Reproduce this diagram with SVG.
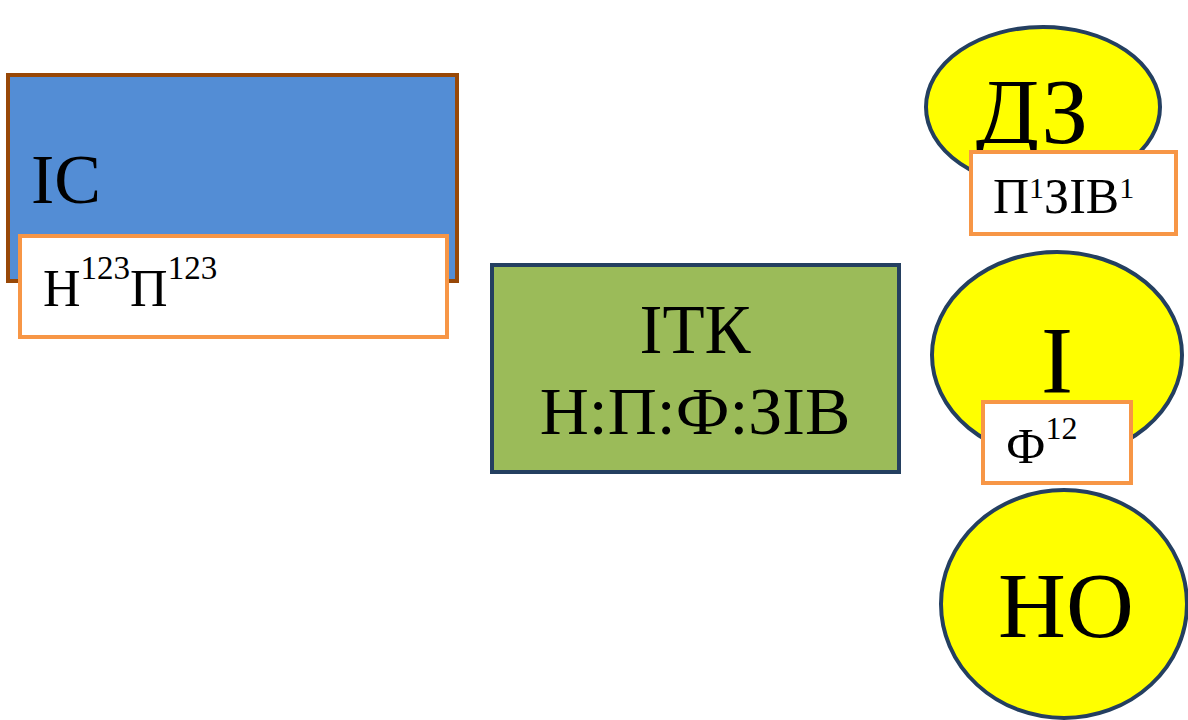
<svg xmlns="http://www.w3.org/2000/svg" width="1188" height="720" viewBox="0 0 1188 720" font-family="'Liberation Serif', 'Times New Roman', Times, serif">
  <style>
    text { font-family: 'Liberation Serif', 'Times New Roman', Times, serif; fill: #000; }
    .tag { fill: #fff; stroke: #F79646; stroke-width: 4; }
    .bubble { fill: #FFFF00; stroke: #243F60; stroke-width: 4; }
  </style>
  <rect width="1188" height="720" fill="#fff"/>

  <!-- information system block -->
  <g id="is">
    <rect x="8" y="75" width="449" height="206" fill="#538DD5" stroke="#984807" stroke-width="4"/>
    <text x="31" y="203" font-size="70">ІС</text>
  </g>
  <g id="is-tag">
    <rect class="tag" x="20" y="236" width="427" height="101"/>
    <text x="43" y="306" font-size="52">Н<tspan dy="-27" font-size="33">123</tspan><tspan dy="27" font-size="52">П</tspan><tspan dy="-27" font-size="33">123</tspan></text>
  </g>

  <!-- central block -->
  <g id="itk">
    <rect x="492" y="265" width="407" height="207" fill="#9BBB59" stroke="#243F60" stroke-width="4"/>
    <text x="695" y="353" font-size="69" text-anchor="middle">ІТК</text>
    <text x="695" y="434" font-size="68" text-anchor="middle">Н:П:Ф:ЗІВ</text>
  </g>

  <!-- right column -->
  <g id="dz">
    <ellipse class="bubble" cx="1043" cy="107" rx="117" ry="80"/>
    <text x="1032" y="143" font-size="93" text-anchor="middle">ДЗ</text>
  </g>
  <g id="dz-tag">
    <rect class="tag" x="971" y="152" width="205" height="82"/>
    <text x="993" y="213" font-size="50">П<tspan dy="-15" font-size="30">1</tspan><tspan dy="15" font-size="50">ЗІВ</tspan><tspan dy="-15" font-size="30">1</tspan></text>
  </g>

  <g id="i">
    <ellipse class="bubble" cx="1057" cy="355" rx="125" ry="103"/>
    <text x="1057" y="393" font-size="96" text-anchor="middle">І</text>
  </g>
  <g id="i-tag">
    <rect class="tag" x="983" y="402" width="148" height="81"/>
    <text x="1006" y="463" font-size="50">Ф<tspan dy="-24" font-size="32">12</tspan></text>
  </g>

  <g id="no">
    <ellipse class="bubble" cx="1064" cy="604" rx="123" ry="114"/>
    <text x="1066" y="637" font-size="94" text-anchor="middle">НО</text>
  </g>

  <g id="connectors"></g>
</svg>
